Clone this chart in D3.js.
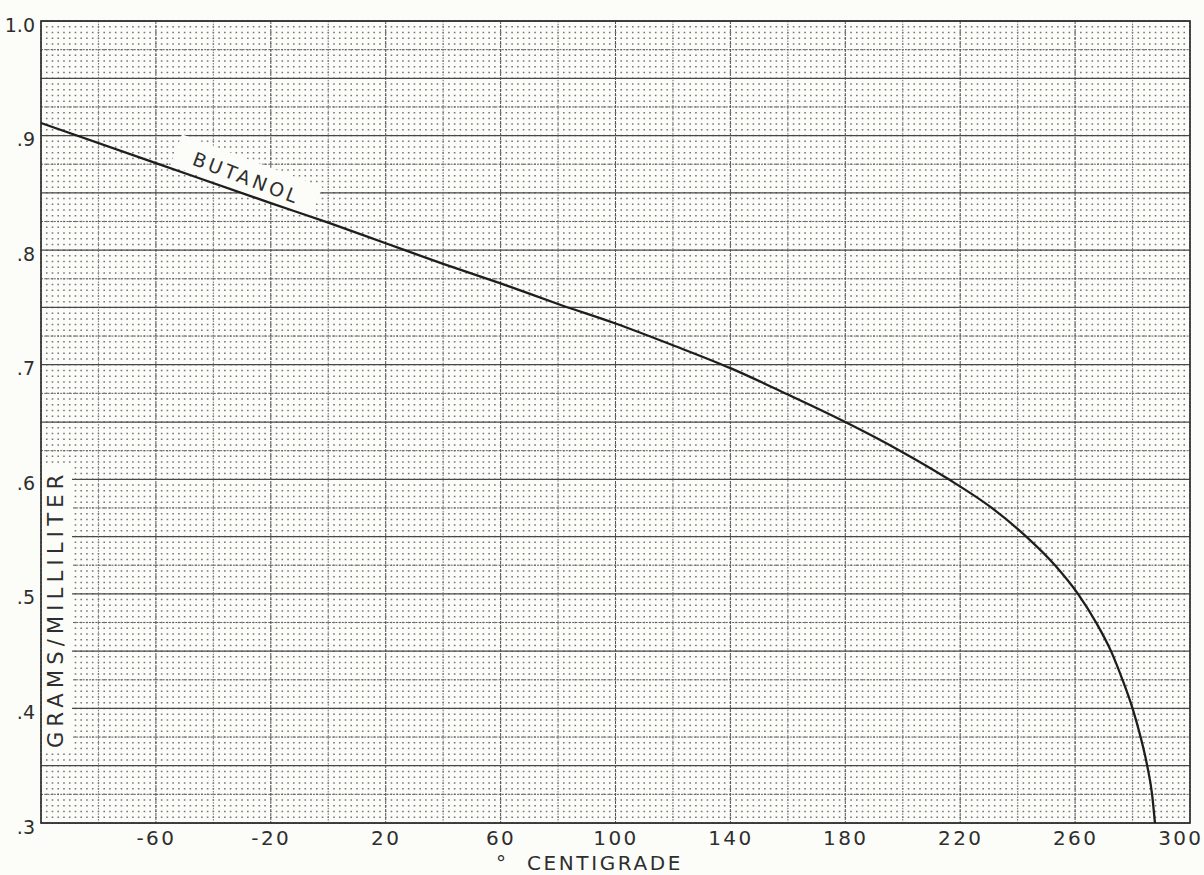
<!DOCTYPE html>
<html>
<head>
<meta charset="utf-8">
<script src="https://cdn.jsdelivr.net/npm/d3@7"></script>
<style>
  html, body { margin: 0; padding: 0; background: #fcfcf9; }
  svg { display: block; }
  text { font-family: "DejaVu Sans", sans-serif; fill: #2e2e2e; }
</style>
</head>
<body>
<svg id="chart" width="1204" height="875"></svg>
<script>
// ---- data ----
const tempC = [-100, -60, -20, 0, 20, 40, 60, 80, 100, 120, 140, 160, 180, 199, 216, 231, 243, 253, 261, 267.3, 272.5, 276.5, 280, 282.8, 285.1, 286.8, 287.8];
const densityGmL = [0.911, 0.876, 0.841, 0.824, 0.806, 0.788, 0.771, 0.753, 0.736, 0.717, 0.697, 0.674, 0.650, 0.625, 0.600, 0.575, 0.550, 0.525, 0.500, 0.475, 0.450, 0.425, 0.400, 0.375, 0.350, 0.325, 0.300];
const xTickValues = [-60, -20, 20, 60, 100, 140, 180, 220, 260, 300];
const xTickLabels = ["-60", "-20", "20", "60", "100", "140", "180", "220", "260", "300"];
const yTickValues = [0.3, 0.4, 0.5, 0.6, 0.7, 0.8, 0.9, 1.0];
const yTickLabels = [".3", ".4", ".5", ".6", ".7", ".8", ".9", "1.0"];
const seriesName = "BUTANOL";
const xTitle = "CENTIGRADE";
const yTitle = "GRAMS/MILLILITER";
const xDomain = [-100, 300];
const yDomain = [0.3, 1.0];

// ---- layout ----
const svg = d3.select("#chart");
const L = 41, R = 1190, T = 21, B = 823;
const x = d3.scaleLinear().domain(xDomain).range([L, R]);
const y = d3.scaleLinear().domain(yDomain).range([B, T]);
const paper = "#fcfcf9";

const g = svg.append("g");

// fine dot grid: dotted horizontal lines whose dots fall on every 2 degrees
const fineY = d3.range(0, Math.round((yDomain[1] - yDomain[0]) / 0.005) + 1).map(i => yDomain[0] + i * 0.005);
const period = x(xDomain[0] + 2) - x(xDomain[0]);
const dot = 1.6;
g.append("g").selectAll("line").data(fineY).join("line")
  .attr("x1", L).attr("x2", R)
  .attr("y1", d => y(d)).attr("y2", d => y(d))
  .attr("stroke", "#777").attr("stroke-width", 1.5)
  .attr("stroke-dasharray", `${dot},${period - dot}`)
  .attr("stroke-dashoffset", dot / 2);

// horizontal rules every .025 (dense dotted) and every .05 (solid)
const midY = d3.range(0, 29).map(i => yDomain[0] + i * 0.025);
g.append("g").selectAll("line").data(midY).join("line")
  .attr("x1", L).attr("x2", R)
  .attr("y1", d => y(d)).attr("y2", d => y(d))
  .attr("stroke", (d, i) => i % 2 === 0 ? "#484848" : "#646464")
  .attr("stroke-width", (d, i) => i % 2 === 0 ? 1.25 : 1)
  .attr("stroke-dasharray", (d, i) => i % 2 === 0 ? null : "2,1.2");

// vertical rules every 20 degrees; darker every 40
const midX = d3.range(0, 21).map(i => xDomain[0] + i * 20);
g.append("g").selectAll("line").data(midX).join("line")
  .attr("x1", d => x(d)).attr("x2", d => x(d))
  .attr("y1", T).attr("y2", B)
  .attr("stroke", (d, i) => i % 2 === 0 ? "#555" : "#777")
  .attr("stroke-width", 1)
  .attr("stroke-dasharray", (d, i) => i % 2 === 0 ? "3,1" : "1.5,1.3");

// frame
g.append("rect").attr("x", L).attr("y", T).attr("width", R - L).attr("height", B - T)
  .attr("fill", "none").attr("stroke", "#333").attr("stroke-width", 1.7);

// white label strip for y title
const yMidPos = y(0.487);
g.append("rect").attr("x", L + 1).attr("y", yMidPos - 142).attr("width", 30).attr("height", 284)
  .attr("fill", paper);
g.append("text")
  .attr("transform", `translate(${L + 22},${yMidPos}) rotate(-90)`)
  .attr("text-anchor", "middle")
  .style("font-size", "21px").style("letter-spacing", "5.2px")
  .text(yTitle);

// series label strip along the curve
const lt = -31;
const ld = densityGmL[2] + (densityGmL[1] - densityGmL[2]) * ((lt - tempC[2]) / (tempC[1] - tempC[2]));
const angle = Math.atan2(y(densityGmL[4]) - y(densityGmL[0]), x(tempC[4]) - x(tempC[0])) * 180 / Math.PI + 1.5;
const lab = g.append("g").attr("transform", `translate(${x(lt)},${y(ld)}) rotate(${angle})`);
lab.append("rect").attr("x", -74).attr("y", -34).attr("width", 150).attr("height", 33).attr("fill", paper);
lab.append("text").attr("x", 2).attr("y", -9).attr("text-anchor", "middle")
  .style("font-size", "19px").style("letter-spacing", "3.4px")
  .text(seriesName);

// curve
const line = d3.line().x((d, i) => x(tempC[i])).y(d => y(d)).curve(d3.curveMonotoneX);
g.append("path").datum(densityGmL).attr("d", line)
  .attr("fill", "none").attr("stroke", "#1e1e1e").attr("stroke-width", 2.3)
  .attr("stroke-linejoin", "round");

// axes
const xAxis = d3.axisBottom(x).tickValues(xTickValues).tickSize(0).tickPadding(0)
  .tickFormat((d, i) => xTickLabels[i]);
const xa = svg.append("g").attr("transform", `translate(0,${B})`).call(xAxis);
xa.select(".domain").remove();
xa.selectAll("text").attr("dy", null).attr("y", 22)
  .style("font-size", "20px").style("letter-spacing", "2.4px").style("font-family", "DejaVu Sans, sans-serif").attr("fill", "#2e2e2e");
// the last label is pushed inside the page edge, as in the reference
xa.selectAll(".tick").filter(d => d === xDomain[1]).select("text")
  .attr("text-anchor", "end").attr("x", 1203 - R);

const yAxis = d3.axisLeft(y).tickValues(yTickValues).tickSize(0).tickPadding(0)
  .tickFormat((d, i) => yTickLabels[i]);
const ya = svg.append("g").attr("transform", `translate(${L - 6},0)`).call(yAxis);
ya.select(".domain").remove();
ya.selectAll("text").attr("dy", "0.32em").attr("y", 4)
  .style("font-size", "19px").style("font-family", "DejaVu Sans, sans-serif").attr("fill", "#2e2e2e");

// x title with degree mark
svg.append("text").attr("x", 501).attr("y", 870).attr("text-anchor", "middle")
  .style("font-size", "20px").text("°");
svg.append("text").attr("x", 527).attr("y", 870).attr("text-anchor", "start")
  .style("font-size", "20px").style("letter-spacing", "2.6px").text(xTitle);
</script>
</body>
</html>
